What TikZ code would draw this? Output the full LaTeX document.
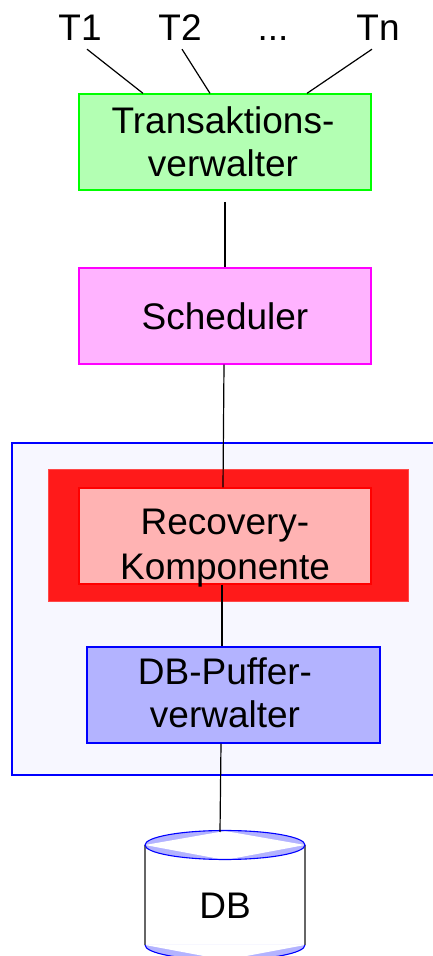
\documentclass[tikz,border=0pt]{standalone}
\usepackage{fontspec}
\setmainfont{Liberation Sans}
\usetikzlibrary{calc, positioning}

\definecolor{transfill}{HTML}{B3FFB3}
\definecolor{schedfill}{HTML}{FFB3FF}
\definecolor{scheddraw}{HTML}{FF00FF}
\definecolor{recovfill}{HTML}{FFB3B3}
\definecolor{recovring}{HTML}{FF1A1A}
\definecolor{pufferfill}{HTML}{B3B3FF}
\definecolor{framefill}{HTML}{F7F7FF}

\begin{document}
\begin{tikzpicture}[
                x=1pt, y=1pt,
                label/.style={font=\fontsize{37}{43}\selectfont, inner sep=0pt, align=center},
                tlabel/.style={label, text height=26pt, text depth=0pt},
                comp/.style={label, minimum height=96pt, line width=1.3pt},
                wire/.style={draw=black, line width=1.2pt}
            ]
            \useasboundingbox (0,0) rectangle (432,956);

            % Frame and red ring behind the recovery box
            \node[draw=blue, fill=framefill, line width=1.3pt, minimum width=440pt, minimum height=332pt, inner sep=0pt] (frame) at (232,347) {};
            \node[draw=recovring!80!white, fill=recovring, line width=0.8pt, minimum width=360pt, minimum height=132pt, inner sep=0pt] (ring) at (228,421) {};

            % Transactions
            \node[tlabel] (T-1) at (80,928) {T1};
            \node[tlabel] (T-2) at (180,928) {T2};
            \node[tlabel] (T-3) at (273,928) {...};
            \node[tlabel] (T-4) at (378,928) {Tn};

            % Components
            \node[comp, draw=green, fill=transfill, minimum width=292pt] (trans) at (225,814) {};
            \node[label] (trans-text) at (223,814) {Transaktions-\\verwalter};
            \node[comp, draw=scheddraw, fill=schedfill, minimum width=292pt] (sched) at (225,640) {Scheduler};
            \node[comp, draw=red, fill=recovfill, minimum width=292pt] (recov) at (225,420) {};
            \node[label, text depth=0pt] (recov-text) at (225,411.5) {Recovery-\\[1.5pt]Komponente};
            \node[comp, draw=blue, fill=pufferfill, minimum width=293pt] (puffer) at (233.5,261) {};
            \node[label] (puffer-text) at (225,263) {DB-Puffer-\\verwalter};

            % Database
            \fill[pufferfill] (225,111) ellipse [x radius=80, y radius=14.5];
            \fill[white] (145,111) -- (225,125) -- (305,111) -- (225,96) -- cycle;
            \fill[pufferfill] (145,11) arc [start angle=180, end angle=360, x radius=80, y radius=15] -- cycle;
            \fill[white] (145,11) -- (225,-4) -- (305,11) -- cycle;
            \draw[black!60, line width=1.1pt] (145,111) -- (145,11) (305,111) -- (305,11);
            \draw[blue, line width=1.1pt] (225,111) ellipse [x radius=80, y radius=14.5];
            \draw[blue, line width=1.1pt] (145,11) arc [start angle=180, end angle=360, x radius=80, y radius=15];
            \node[label] (db) at (225,50) {DB};

            % Free ends
            \coordinate (trans-out) at (225,754);
            \coordinate (db-in) at (220,124);

            % Connections
            \draw[wire] ([xshift=7pt]T-1.south) ++(0,-8) -- ([xshift=-82pt]trans.north);
            \draw[wire] ([xshift=2pt]T-2.south) ++(0,-8) -- ([xshift=-15pt]trans.north);
            \draw[wire] ([xshift=-6pt]T-4.south) ++(0,-8) -- ([xshift=82pt]trans.north);
            \draw[wire] (trans-out) -- (sched.north);
            \draw[wire] ([xshift=-1pt]sched.south) -- ([xshift=-2pt]recov.north);
            \draw[wire] ([xshift=-3pt]recov.south) -- ([xshift=-11.5pt]puffer.north);
            \draw[wire] ([xshift=-12.5pt]puffer.south) -- (db-in);

        \end{tikzpicture}
\end{document}
